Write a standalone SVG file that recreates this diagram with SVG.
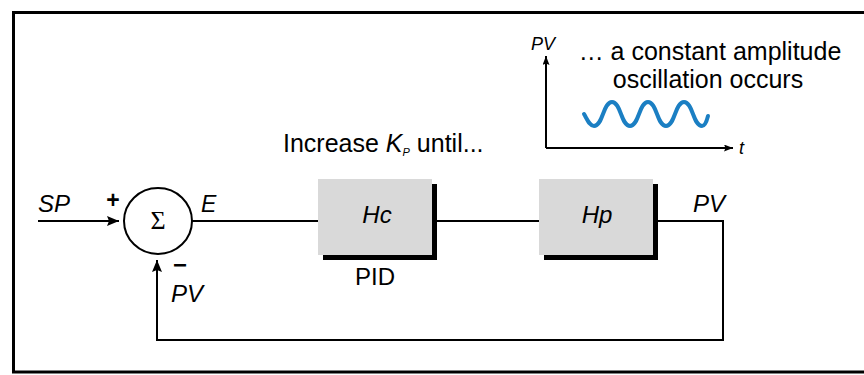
<svg xmlns="http://www.w3.org/2000/svg" width="864" height="375" viewBox="0 0 864 375">
<style>
.t{font-family:"Liberation Sans",Arial,sans-serif;fill:#000}
.i{font-style:italic}
.ln{fill:none;stroke:#000;stroke-width:2}
.box{fill:#d9d9d9}
.sh{fill:#000}
</style>
<defs>
<marker id="ah" markerUnits="userSpaceOnUse" markerWidth="13" markerHeight="11" refX="12" refY="5" orient="auto">
<path d="M0,0 L12,5 L0,10 L2,5 z" fill="#000"/>
</marker>
<marker id="ahs" markerUnits="userSpaceOnUse" markerWidth="10" markerHeight="8" refX="9" refY="3.5" orient="auto">
<path d="M0,0 L9,3.5 L0,7 L1.5,3.5 z" fill="#000"/>
</marker>
</defs>
<rect width="864" height="375" fill="#fff"/>
<rect x="13.5" y="12.5" width="880" height="359.5" fill="none" stroke="#000" stroke-width="3"/>

<g id="connectors">
<path class="ln" d="M38,221 H119" marker-end="url(#ah)"/>
<path class="ln" d="M192,221 H318"/>
<path class="ln" d="M437,221 H539"/>
<path class="ln" d="M658,221 H723 V340 H157 V260" marker-end="url(#ah)"/>
</g>

<g id="sum">
<ellipse cx="158" cy="221" rx="34" ry="33" fill="#fff" stroke="#000" stroke-width="2"/>
<text class="t" x="158" y="229" text-anchor="middle" style="font-family:'Liberation Serif',serif" font-size="26">Σ</text>
<text class="t" x="113" y="208" text-anchor="middle" font-size="23" font-weight="bold">+</text>
<text class="t" x="180" y="273" text-anchor="middle" font-size="24" font-weight="bold">−</text>
</g>

<g id="hc">
<rect class="sh" x="323" y="184" width="114" height="76"/>
<rect class="box" x="318" y="179" width="114" height="76"/>
<text class="t i" x="377" y="223" text-anchor="middle" font-size="24">Hc</text>
<text class="t" x="375" y="285" text-anchor="middle" font-size="24">PID</text>
</g>

<g id="hp">
<rect class="sh" x="544" y="184" width="114" height="76"/>
<rect class="box" x="539" y="179" width="114" height="76"/>
<text class="t i" x="597" y="223" text-anchor="middle" font-size="24">Hp</text>
</g>

<g id="labels">
<text class="t i" x="38" y="212" font-size="24">SP</text>
<text class="t i" x="201" y="212" font-size="23">E</text>
<text class="t i" x="693" y="212" font-size="24">PV</text>
<text class="t i" x="171" y="302" font-size="24">PV</text>
<text class="t" x="283" y="152" font-size="25">Increase <tspan class="i">K</tspan><tspan class="i" font-size="11" dy="4">P</tspan><tspan dy="-4"> until...</tspan></text>
</g>

<g id="plot">
<path class="ln" d="M546,148 V56" marker-end="url(#ahs)"/>
<path class="ln" d="M546,148 H733" marker-end="url(#ahs)"/>
<text class="t i" x="531" y="50" font-size="18">PV</text>
<text class="t i" x="739" y="154" font-size="18">t</text>
<text class="t" x="710" y="60" text-anchor="middle" font-size="25">… a constant amplitude</text>
<text class="t" x="708" y="88" text-anchor="middle" font-size="25">oscillation occurs</text>
<path d="M584,114 C588,121 590,126 594,126 C603,126 603,102 612,102 C621,102 621,126 630,126 C639,126 639,102 648,102 C657,102 657,126 666,126 C675,126 675,102 684,102 C693,102 693,126 702,126 C705,126 707,120 708,116" fill="none" stroke="#1b7fc3" stroke-width="4" stroke-linecap="round"/>
</g>
</svg>
